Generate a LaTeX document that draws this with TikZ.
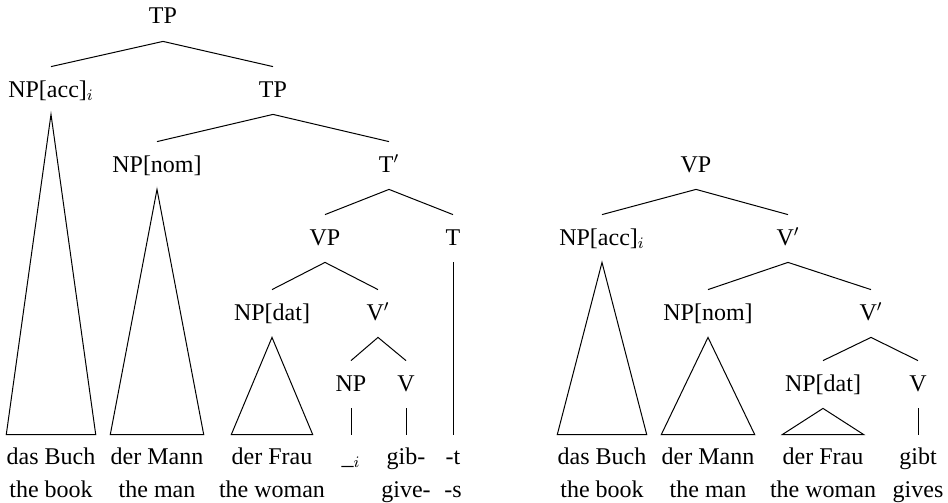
\documentclass[tikz,border=0pt]{standalone}
\usepackage{fontspec}
\setmainfont{Liberation Serif}
\begin{document}
\begin{tikzpicture}[x=0.5pt,y=-0.5pt,
  lab/.style={font=\fontsize{12}{14}\selectfont, text height=8.5pt, text depth=2pt, inner xsep=0pt, inner ysep=6.5pt, anchor=base},
  leaf/.style={font=\fontsize{12}{14}\selectfont, text height=8.5pt, text depth=2.5pt, inner xsep=0pt, inner ysep=6pt, anchor=base},
  gloss/.style={font=\fontsize{12}{14}\selectfont, inner sep=0pt, anchor=base},
  edge/.style={line width=0.5pt, line join=miter}]
\useasboundingbox (0,0) rectangle (948,503);
% ---------- left tree ----------
\node[lab] (tp1) at (163,24) {TP};
\node[lab] (npacc) at (51,97) {NP[acc]$_i$};
\node[lab] (tp2) at (273,97) {TP};
\node[lab] (npnom) at (157,172) {NP[nom]};
\node[lab] (tbar) at (389,172) {T$'$};
\node[lab] (vp) at (325,245) {VP};
\node[lab] (t) at (453,245) {T};
\node[lab] (npdat) at (272,320) {NP[dat]};
\node[lab] (vbar) at (378,320) {V$'$};
\node[lab] (np) at (351,391) {NP};
\node[lab] (v) at (406,391) {V};
\node[leaf] (l1) at (51,464) {das Buch};
\node[leaf] (l2) at (157,464) {der Mann};
\node[leaf] (l3) at (272,464) {der Frau};
\node[leaf] (l4) at (351,464) {\_$_i$};
\node[leaf] (l5) at (406,464) {gib-};
\node[leaf] (l6) at (453,464) {-t};
\node[gloss] (g1) at (51,497) {the book};
\node[gloss] (g2) at (157,497) {the man};
\node[gloss] (g3) at (272,497) {the woman};
\node[gloss] (g5) at (406,497) {give-};
\node[gloss] (g6) at (453,497) {-s};
\draw[edge] (npacc.north) -- (tp1.south) -- (tp2.north);
\draw[edge] (npnom.north) -- (tp2.south) -- (tbar.north);
\draw[edge] (vp.north) -- (tbar.south) -- (t.north);
\draw[edge] (npdat.north) -- (vp.south) -- (vbar.north);
\draw[edge] (np.north) -- (vbar.south) -- (v.north);
\draw[edge] (npacc.south) -- (l1.north west) -- (l1.north east) -- cycle;
\draw[edge] (npnom.south) -- (l2.north west) -- (l2.north east) -- cycle;
\draw[edge] (npdat.south) -- (l3.north west) -- (l3.north east) -- cycle;
\draw[edge] (np.south) -- (l4.north);
\draw[edge] (v.south) -- (l5.north);
\draw[edge] (t.south) -- (l6.north);
% ---------- right tree ----------
\node[lab] (rvp) at (696,172) {VP};
\node[lab] (rnpacc) at (602,245) {NP[acc]$_i$};
\node[lab] (rvbar1) at (788,245) {V$'$};
\node[lab] (rnpnom) at (708,320) {NP[nom]};
\node[lab] (rvbar2) at (871,320) {V$'$};
\node[lab] (rnpdat) at (823,391) {NP[dat]};
\node[lab] (rv) at (918,391) {V};
\node[leaf] (r1) at (602,464) {das Buch};
\node[leaf] (r2) at (708,464) {der Mann};
\node[leaf] (r3) at (823,464) {der Frau};
\node[leaf] (r4) at (918,464) {gibt};
\node[gloss] (h1) at (602,497) {the book};
\node[gloss] (h2) at (708,497) {the man};
\node[gloss] (h3) at (823,497) {the woman};
\node[gloss] (h4) at (918,497) {gives};
\draw[edge] (rnpacc.north) -- (rvp.south) -- (rvbar1.north);
\draw[edge] (rnpnom.north) -- (rvbar1.south) -- (rvbar2.north);
\draw[edge] (rnpdat.north) -- (rvbar2.south) -- (rv.north);
\draw[edge] (rnpacc.south) -- (r1.north west) -- (r1.north east) -- cycle;
\draw[edge] (rnpnom.south) -- (r2.north west) -- (r2.north east) -- cycle;
\draw[edge] (rnpdat.south) -- (r3.north west) -- (r3.north east) -- cycle;
\draw[edge] (rv.south) -- (r4.north);
\end{tikzpicture}
\end{document}
